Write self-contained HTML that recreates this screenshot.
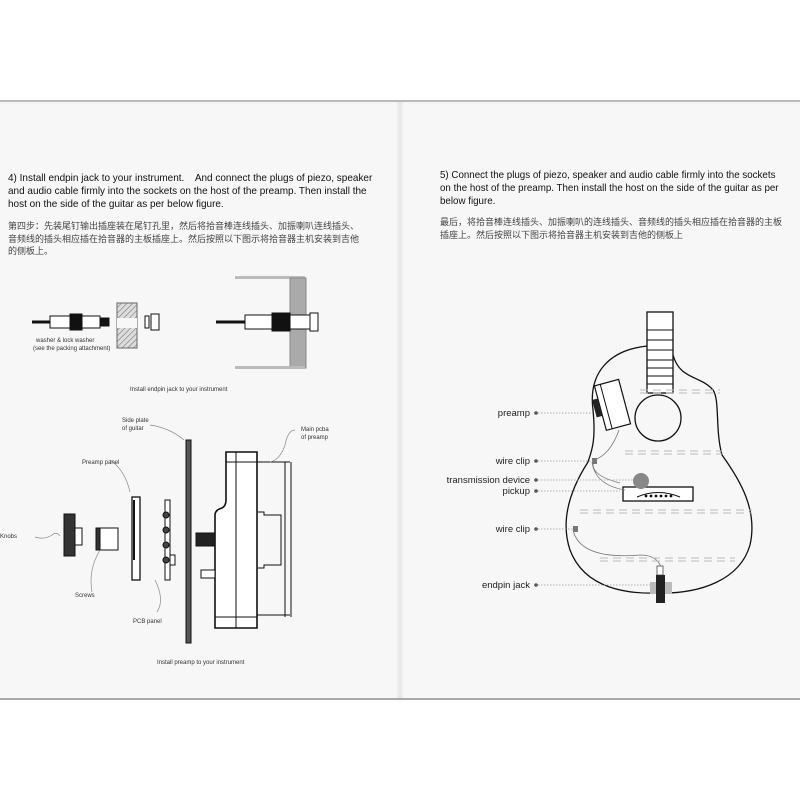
<!DOCTYPE html>
<html><head><meta charset="utf-8"><style>
body{margin:0;width:800px;height:800px;background:#fff;position:relative;overflow:hidden;font-family:"Liberation Sans","Noto Sans CJK SC",sans-serif}
.pg{position:absolute;top:100px;height:600px;background:#f7f7f7}
.t{position:absolute;font-size:10.5px;line-height:13px;color:#111;white-space:nowrap;transform:scaleX(0.95);transform-origin:0 0}
.c{position:absolute;font-size:9px;line-height:12.5px;color:#444;white-space:nowrap;font-family:"Noto Sans CJK SC",sans-serif}
svg{position:absolute;left:0;top:0}
</style></head><body>
<div class="pg" style="left:0;width:398px"></div>
<div class="pg" style="left:402px;width:398px"></div>
<div style="position:absolute;left:396px;top:100px;width:8px;height:600px;background:linear-gradient(90deg,#f7f7f7,#e6e6e6,#f7f7f7)"></div>
<div style="position:absolute;left:0;top:100px;width:800px;height:2px;background:#bbb"></div>
<div style="position:absolute;left:0;top:698px;width:800px;height:2px;background:#aaa"></div>
<div class="t" style="left:8px;top:172px">4) Install endpin jack to your instrument.&nbsp;&nbsp;&nbsp; And connect the plugs of piezo, speaker<br>and audio cable firmly into the sockets on the host of the preamp. Then install the<br>host on the side of the guitar as per below figure.</div>
<div class="c" style="left:8px;top:220px">第四步：先装尾钉输出插座装在尾钉孔里，然后将拾音棒连线插头、加振喇叭连线插头、<br>音频线的插头相应插在拾音器的主板插座上。然后按照以下图示将拾音器主机安装到吉他<br>的侧板上。</div>
<div class="t" style="left:440px;top:169px;transform:scaleX(0.93)">5) Connect the plugs of piezo, speaker and audio cable firmly into the sockets<br>on the host of the preamp. Then install the host on the side of the guitar as per<br>below figure.</div>
<div class="c" style="left:440px;top:216px">最后，将拾音棒连线插头、加振喇叭的连线插头、音频线的插头相应插在拾音器的主板<br>插座上。然后按照以下图示将拾音器主机安装到吉他的侧板上</div>
<svg width="800" height="800" font-family="Liberation Sans,sans-serif">
<defs><pattern id="h" width="4" height="4" patternUnits="userSpaceOnUse" patternTransform="rotate(45)"><rect width="4" height="4" fill="#ddd"/><line x1="0" y1="0" x2="0" y2="4" stroke="#777" stroke-width="1.2"/></pattern></defs>
<g stroke="#111" stroke-width="1">
<line x1="32" y1="322" x2="50" y2="322" stroke-width="3"/>
<rect x="50" y="316" width="20" height="12" fill="#fff"/><rect x="70" y="314" width="12" height="16" fill="#111"/><rect x="82" y="316" width="18" height="12" fill="#fff"/><rect x="100" y="318" width="9" height="8" fill="#111"/>
<rect x="117" y="303" width="20" height="45" fill="url(#h)" stroke="#666"/><rect x="117" y="318" width="20" height="10" fill="#f7f7f7" stroke="none"/>
<rect x="145" y="316" width="4" height="12" fill="#fff"/><rect x="151" y="314" width="8" height="16" fill="#fff"/>
<rect x="235" y="276" width="70" height="3" fill="#bbb" stroke="none"/><rect x="290" y="278" width="16" height="90" fill="#aaa" stroke="#888"/><rect x="235" y="366" width="70" height="3" fill="#bbb" stroke="none"/>
<line x1="216" y1="322" x2="245" y2="322" stroke-width="3"/>
<rect x="245" y="315" width="27" height="14" fill="#fff"/><rect x="272" y="313" width="18" height="18" fill="#111"/><rect x="290" y="315" width="20" height="14" fill="#fff"/><rect x="310" y="313" width="8" height="18" fill="#fff"/>
<rect x="186" y="440" width="5" height="203" fill="#555"/>
<path d="M226 452 H257 V628 H215 V515 Q215 510 222 508 Q226 506 226 500 Z" fill="#fff" stroke-width="1.6"/>
<line x1="226" y1="462" x2="257" y2="462"/><line x1="236" y1="452" x2="236" y2="628"/><line x1="215" y1="617" x2="257" y2="617"/>
<path d="M257 462 H290 M257 615 H290 M285 462 V617 M291 462 V617" fill="none"/>
<path d="M258 512 H264 V515 H281 V565 H264 V568 H258" fill="none"/>
<rect x="196" y="533" width="19" height="13" fill="#222"/><rect x="201" y="570" width="14" height="8" fill="#fff"/>
<rect x="165" y="500" width="5" height="80" fill="#fff"/><circle cx="166" cy="515" r="3" fill="#444"/><circle cx="166" cy="530" r="3" fill="#444"/><circle cx="166" cy="545" r="3" fill="#444"/><circle cx="166" cy="560" r="3" fill="#444"/><rect x="170" y="555" width="5" height="10" fill="#fff"/>
<rect x="132" y="497" width="8" height="83" fill="#fff" stroke-width="1.3"/><line x1="134" y1="500" x2="134" y2="560" stroke-width="2"/>
<rect x="98" y="528" width="20" height="22" fill="#fff"/><rect x="96" y="528" width="4" height="22" fill="#333"/>
<rect x="64" y="514" width="11" height="42" fill="#333"/><rect x="75" y="528" width="7" height="17" fill="#fff"/>
</g>
<g stroke="#888" fill="none" stroke-width="0.7">
<path d="M35 537 Q45 540 52 535 Q56 531 60 536"/><path d="M100 550 Q88 570 92 592"/><path d="M110 460 Q125 470 130 492"/><path d="M150 425 Q170 428 184 440"/><path d="M155 580 Q165 600 157 612"/><path d="M295 430 Q288 430 285 445 Q280 460 270 462"/>
</g>
<g font-size="6" fill="#333">
<text x="36" y="342">washer &amp; lock washer</text><text x="33" y="350">(see the packing attachment)</text>
<text x="130" y="391">Install endpin jack to your instrument</text>
<text x="122" y="422">Side plate</text><text x="122" y="430">of guitar</text>
<text x="301" y="431">Main pcba</text><text x="301" y="439">of preamp</text>
<text x="82" y="464">Preamp panel</text><text x="0" y="538">Knobs</text><text x="75" y="597">Screws</text><text x="133" y="623">PCB panel</text>
<text x="157" y="664">Install preamp to your instrument</text>
</g>
<g stroke="#111" fill="none" stroke-width="1.3">
<rect x="647" y="312" width="26" height="81" fill="#fff"/>
<path d="M647 330H673M647 340H673M647 350H673M647 360H673M647 368H673M647 376H673M647 384H673" stroke-width="1"/>
<path d="M647 346 C610 350 588 372 593 410 C596 440 592 450 588 462 C570 490 560 520 570 550 C585 590 630 594 658 593 C700 594 740 580 750 545 C758 510 740 480 722 455 C715 430 720 400 713 390 C700 375 680 380 673 355"/>
<circle cx="658" cy="418" r="23"/>
<rect x="623" y="487" width="70" height="14" fill="#fff"/>
</g>
<path d="M637 497 Q658 488 680 497" stroke="#111" fill="none"/>
<g fill="#111"><circle cx="646" cy="496" r="1.4"/><circle cx="651" cy="496" r="1.4"/><circle cx="656" cy="496" r="1.4"/><circle cx="661" cy="496" r="1.4"/><circle cx="666" cy="496" r="1.4"/><circle cx="671" cy="496" r="1.4"/></g>
<circle cx="641" cy="481" r="8" fill="#888"/>
<g transform="rotate(-15 612 405)"><rect x="600" y="382" width="25" height="46" fill="#fff" stroke="#111" stroke-width="1.2"/><line x1="606" y1="382" x2="606" y2="428" stroke="#111"/><rect x="594" y="395" width="6" height="18" fill="#222"/></g>
<g stroke="#777" fill="none" stroke-width="0.8"><path d="M619 430 Q610 455 594 460 Q588 475 620 483"/><path d="M592 462 Q595 485 625 490"/><path d="M573 530 Q580 560 640 555 Q660 555 662 572"/></g>
<rect x="573" y="526" width="5" height="6" fill="#777"/><rect x="592" y="458" width="5" height="6" fill="#777"/>
<rect x="650" y="582" width="22" height="12" fill="#bbb"/><rect x="656" y="575" width="9" height="28" fill="#222"/><rect x="657" y="566" width="6" height="9" fill="#fff" stroke="#333" stroke-width="0.7"/>
<g stroke="#bbb" stroke-width="1" stroke-dasharray="8,5"><path d="M640 390H720M640 393H720"/><path d="M625 451H722M625 454H722"/><path d="M580 510H752M580 513H752"/><path d="M600 558H735M600 561H735"/></g>
<g stroke="#999" stroke-width="0.8" stroke-dasharray="1.5,1.5"><path d="M538 413H593M538 461H593M538 480H633M538 491H620M538 529H573M538 585H650"/></g>
<g fill="#555"><circle cx="536" cy="413" r="1.8"/><circle cx="536" cy="461" r="1.8"/><circle cx="536" cy="480" r="1.8"/><circle cx="536" cy="491" r="1.8"/><circle cx="536" cy="529" r="1.8"/><circle cx="536" cy="585" r="1.8"/></g>
<g font-size="9.5" fill="#222" text-anchor="end"><text x="530" y="416">preamp</text><text x="530" y="464">wire clip</text><text x="530" y="483">transmission device</text><text x="530" y="494">pickup</text><text x="530" y="532">wire clip</text><text x="530" y="588">endpin jack</text></g>
</svg>
</body></html>
